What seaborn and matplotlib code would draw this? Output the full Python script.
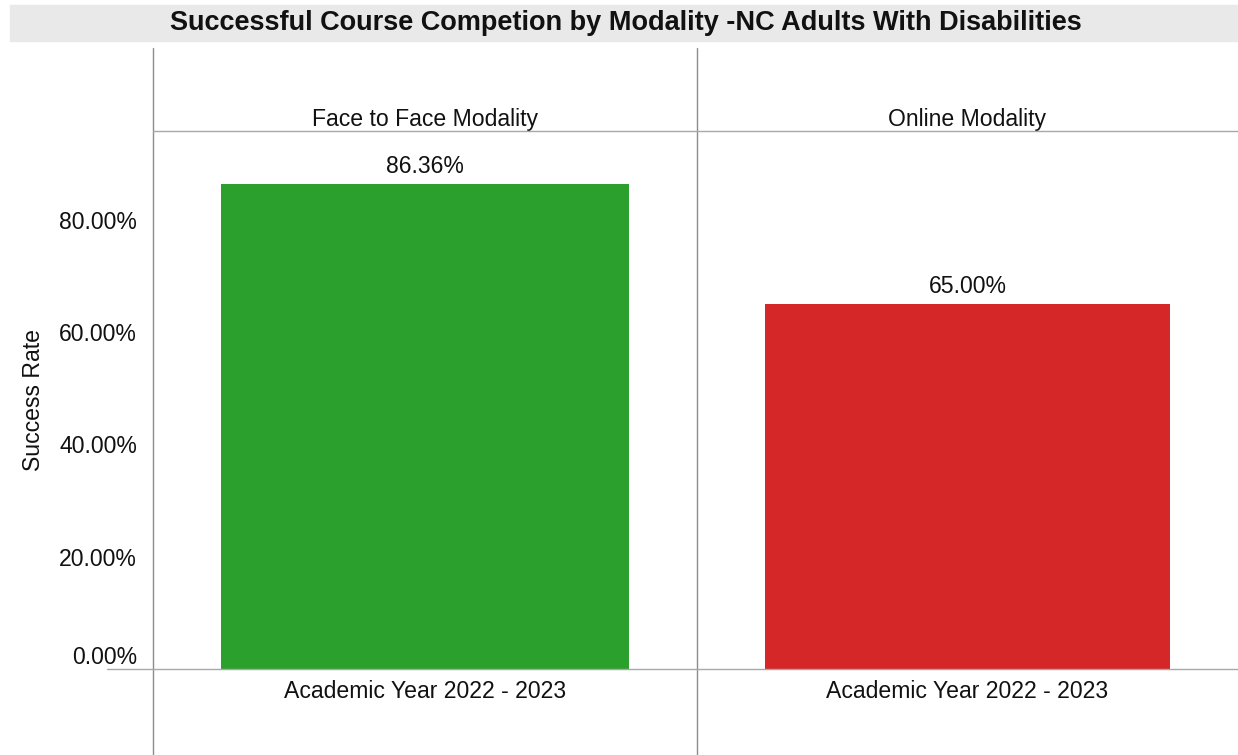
import matplotlib
matplotlib.use("Agg")
import matplotlib.pyplot as plt
import pandas as pd
import seaborn as sns
from matplotlib.lines import Line2D
from matplotlib.patches import Rectangle
from matplotlib.ticker import FuncFormatter

# data
modalities = ["Face to Face Modality", "Online Modality"]
years = ["Academic Year 2022 - 2023", "Academic Year 2022 - 2023"]
success_rate = [86.36, 65.00]
bar_colors = ["#2ca02c", "#d62728"]
y_ticks = [0, 20, 40, 60, 80]

df = pd.DataFrame({"modality": modalities, "year": years, "rate": success_rate})

sns.set_style("white")
plt.rcParams["font.family"] = ["Liberation Sans", "DejaVu Sans"]

W, H = 1238, 755
fig = plt.figure(figsize=(W / 100, H / 100), dpi=100)

def fx(px):
    return px / W

def fy(py):
    return 1 - py / H

fs = 16.6

# grey title band
fig.patches.append(Rectangle((fx(10), fy(41)), fx(1228), 36 / H,
                             transform=fig.transFigure, color="#e9e9e9", zorder=0))
fig.text(fx(626), fy(23), "Successful Course Competion by Modality -NC Adults With Disabilities",
         ha="center", va="center", fontsize=19.5, fontweight="bold", color="#111111")

top, bottom = 131, 669
panels = [(153, 697), (697, 1238)]
axes = []
for i, (x0, x1) in enumerate(panels):
    ax = fig.add_axes([fx(x0), fy(bottom), fx(x1 - x0), (bottom - top) / H])
    sub = df.iloc[[i]]
    sns.barplot(data=sub, x="year", y="rate", hue="modality",
                palette=[bar_colors[i]], ax=ax, width=0.75, legend=False,
                saturation=1, edgecolor="none")
    ax.set_ylim(0, 95.8)
    ax.set_xlim(-0.5, 0.5)
    for s in ax.spines.values():
        s.set_visible(False)
    ax.set_xlabel("")
    ax.set_ylabel("")
    ax.tick_params(axis="x", length=0, pad=8, labelsize=fs, colors="#111111")
    ax.text(0.5, 1.022, modalities[i], transform=ax.transAxes, ha="center",
            va="center", fontsize=fs, color="#111111")
    for c in ax.containers:
        ax.bar_label(c, labels=[f"{v:.2f}%" for v in c.datavalues],
                     padding=4, fontsize=fs, color="#111111")
    axes.append(ax)

ax0 = axes[0]
ax0.set_yticks(y_ticks)
ax0.yaxis.set_major_formatter(FuncFormatter(lambda v, p: f"{v:.2f}%"))
ax0.tick_params(axis="y", length=0, pad=11.5, labelsize=fs, colors="#111111")
ax0.get_yticklabels()[0].set_verticalalignment("bottom")
ax0.set_ylabel("Success Rate", fontsize=fs, color="#111111")
ax0.yaxis.set_label_coords(-(153 - 45) / 544, 0.5)
axes[1].set_yticks([])

# panel frame lines
for x in (153, 697):
    fig.add_artist(Line2D([fx(x), fx(x)], [fy(48), fy(755)], transform=fig.transFigure,
                          color="#8c8c8c", lw=1))
fig.add_artist(Line2D([fx(153), fx(1238)], [fy(top), fy(top)], transform=fig.transFigure,
                      color="#a8a8a8", lw=1))
fig.add_artist(Line2D([fx(107), fx(1238)], [fy(bottom), fy(bottom)], transform=fig.transFigure,
                      color="#a8a8a8", lw=1))

fig.savefig("out.png", dpi=100)
